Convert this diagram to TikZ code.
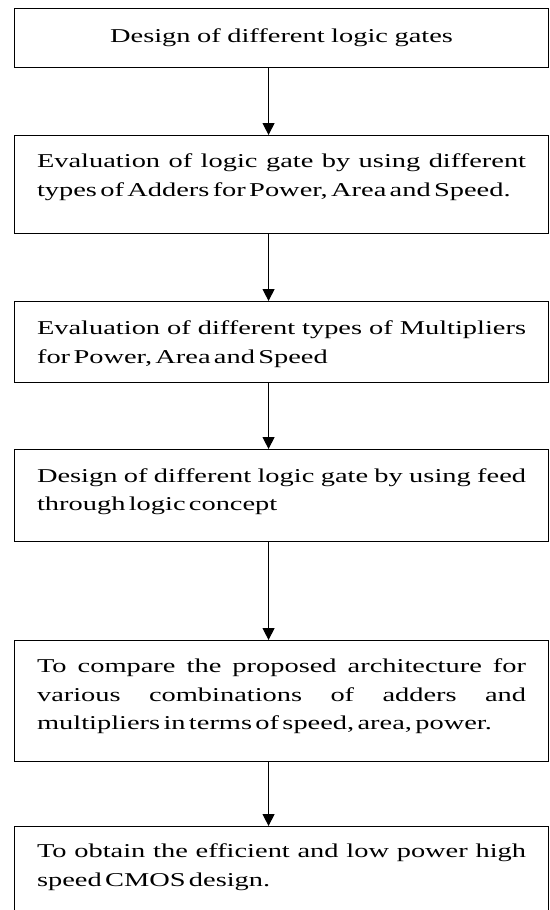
\documentclass[tikz,border=0pt]{standalone}
\usepackage{fontspec}
\setmainfont{Liberation Serif}[FakeStretch=1.45]
\usetikzlibrary{arrows.meta}
\newcommand\stepfont{\fontsize{19.6}{28.5}\selectfont
  \spaceskip=0.17em plus 0.5em minus 0.05em\hyphenpenalty=10000\relax}

\begin{document}
\begin{tikzpicture}[x=1pt,y=-1pt,
    stage/.style={draw,line width=1.1pt,anchor=north west,text width=489pt,
      inner xsep=22.5pt,inner ysep=0pt,align=justify,font=\stepfont},
    flow/.style={line width=1.1pt,-{Triangle[length=12pt,width=12pt]}}]
  \useasboundingbox (0,0) rectangle (549,910);

  \node[stage,align=center,text height=34pt,text depth=25pt] (S1) at (14,8)
    {Design of different logic gates};
  \node[stage,text height=32pt,text depth=66pt] (S2) at (14,135)
    {Evaluation of logic gate by using different\linebreak types of Adders for Power, Area and Speed.};
  \node[stage,text height=33pt,text depth=48pt] (S3) at (14,301)
    {Evaluation of different types of Multipliers\linebreak for Power, Area and Speed};
  \node[stage,text height=32.5pt,text depth=59.5pt] (S4) at (14,449)
    {Design of different logic gate by using feed\linebreak through logic concept};
  \node[stage,text height=32pt,text depth=89pt] (S5) at (14,640)
    {To compare the proposed architecture for\linebreak various combinations of adders and\linebreak multipliers in terms of speed, area, power.};
  \node[stage,text height=31pt,text depth=95pt] (S6) at (14,826)
    {To obtain the efficient and low power high\linebreak speed CMOS design.};

  \draw[flow] ([xshift=-13pt]S1.south) -- ([xshift=-13pt]S2.north);
  \draw[flow] ([xshift=-13pt]S2.south) -- ([xshift=-13pt]S3.north);
  \draw[flow] ([xshift=-13pt]S3.south) -- ([xshift=-13pt]S4.north);
  \draw[flow] ([xshift=-13pt]S4.south) -- ([xshift=-13pt]S5.north);
  \draw[flow] ([xshift=-13pt]S5.south) -- ([xshift=-13pt]S6.north);

\end{tikzpicture}
\end{document}
